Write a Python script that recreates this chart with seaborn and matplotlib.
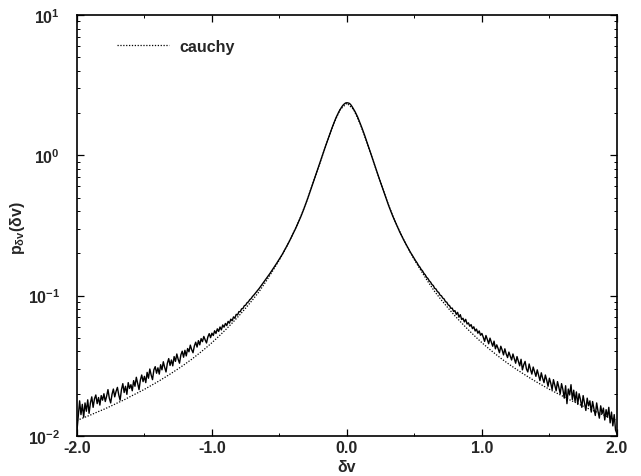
import numpy as np
import pandas as pd
import matplotlib
matplotlib.use("Agg")
import matplotlib.pyplot as plt
import seaborn as sns
from matplotlib.ticker import LogLocator, MultipleLocator, NullFormatter

# ---- data ----
# measured PDF, x from -2.00 to 2.00 step 0.01
measured_left = [
    0.0108, 0.0138, 0.0178, 0.0142, 0.0168, 0.0136, 0.0172, 0.0150, 0.0181, 0.0145,
    0.0172, 0.0190, 0.0160, 0.0184, 0.0196, 0.0170, 0.0188, 0.0166, 0.0194, 0.0180,
    0.0200, 0.0176, 0.0192, 0.0214, 0.0186, 0.0172, 0.0198, 0.0216, 0.0190, 0.0208,
    0.0222, 0.0196, 0.0180, 0.0214, 0.0236, 0.0204, 0.0226, 0.0198, 0.0240, 0.0218,
    0.0232, 0.0210, 0.0248, 0.0226, 0.0262, 0.0236, 0.0214, 0.0250, 0.0272, 0.0244,
    0.0266, 0.0240, 0.0284, 0.0258, 0.0300, 0.0272, 0.0252, 0.0296, 0.0312, 0.0280,
    0.0306, 0.0276, 0.0322, 0.0296, 0.0338, 0.0308, 0.0286, 0.0330, 0.0356, 0.0318,
    0.0348, 0.0316, 0.0368, 0.0340, 0.0384, 0.0352, 0.0330, 0.0378, 0.0402, 0.0364,
    0.0408, 0.0372, 0.0420, 0.0398, 0.0444, 0.0412, 0.0392, 0.0438, 0.0466, 0.0430,
    0.0478, 0.0446, 0.0494, 0.0470, 0.0512, 0.0484, 0.0460, 0.0508, 0.0536, 0.0502,
    0.0540,
    0.0520, 0.0562, 0.0538, 0.0580, 0.0556, 0.0598, 0.0570, 0.0618, 0.0596, 0.0634,
    0.0612, 0.0656, 0.0636, 0.0680, 0.0662, 0.0706, 0.0690, 0.0736, 0.0728, 0.0770,
    0.0768, 0.0806, 0.0810, 0.0848, 0.0855, 0.0890, 0.0902, 0.0936, 0.0952, 0.0985,
    0.1008, 0.1036, 0.1065, 0.1095, 0.1125, 0.1160, 0.1195, 0.1232, 0.1270, 0.1310,
    0.1352, 0.1395, 0.1440, 0.1488, 0.1538, 0.1590, 0.1645, 0.1702, 0.1762, 0.1825,
]
measured_center = [
    0.189, 0.196, 0.204, 0.212, 0.221, 0.230, 0.240, 0.251, 0.262, 0.275,
    0.287, 0.301, 0.317, 0.333, 0.350, 0.368, 0.389, 0.412, 0.437, 0.464,
    0.494, 0.526, 0.561, 0.599, 0.639, 0.682, 0.728, 0.776, 0.828, 0.882,
    0.945, 1.010, 1.080, 1.150, 1.225, 1.305, 1.390, 1.480, 1.570, 1.665,
    1.760, 1.860, 1.950, 2.040, 2.120, 2.200, 2.270, 2.320, 2.360,
    2.370,
    2.360, 2.340, 2.285, 2.210, 2.130, 2.050, 1.960, 1.870, 1.770, 1.670,
    1.580, 1.490, 1.400, 1.310, 1.230, 1.150, 1.080, 1.010, 0.945, 0.882,
    0.826, 0.774, 0.725, 0.680, 0.638, 0.598, 0.560, 0.525, 0.493, 0.463,
    0.436, 0.411, 0.389, 0.368, 0.350, 0.333, 0.316, 0.300, 0.286, 0.274,
    0.262, 0.250, 0.240, 0.230, 0.221, 0.213, 0.204, 0.197, 0.190,
]
measured_right = [
    0.1830,
    0.1765, 0.1712, 0.1642, 0.1600, 0.1538, 0.1502, 0.1442, 0.1408, 0.1352, 0.1325,
    0.1275, 0.1248, 0.1200, 0.1180, 0.1128, 0.1115, 0.1068, 0.1055, 0.1008, 0.0998,
    0.0960, 0.0948, 0.0905, 0.0898, 0.0858, 0.0850, 0.0812, 0.0815, 0.0772, 0.0782,
    0.0735, 0.0760, 0.0702, 0.0732, 0.0676, 0.0690, 0.0650, 0.0678, 0.0628, 0.0640,
    0.0605, 0.0622, 0.0582, 0.0600, 0.0560, 0.0578, 0.0540, 0.0560, 0.0522, 0.0538,
    0.0506, 0.0472, 0.0520, 0.0488, 0.0454, 0.0498, 0.0466, 0.0436, 0.0474, 0.0418,
    0.0446, 0.0420, 0.0392, 0.0436, 0.0410, 0.0378, 0.0418, 0.0384, 0.0362, 0.0396,
    0.0372, 0.0348, 0.0384, 0.0356, 0.0330, 0.0368, 0.0342, 0.0316, 0.0352, 0.0296,
    0.0322, 0.0340, 0.0300, 0.0286, 0.0326, 0.0298, 0.0276, 0.0310, 0.0288, 0.0266,
    0.0296, 0.0270, 0.0248, 0.0282, 0.0258, 0.0240, 0.0272, 0.0250, 0.0226, 0.0258,
    0.0238, 0.0214, 0.0252, 0.0230, 0.0210, 0.0244, 0.0222, 0.0200, 0.0236, 0.0214,
    0.0186, 0.0228, 0.0170, 0.0216, 0.0196, 0.0232, 0.0182, 0.0212, 0.0176, 0.0206,
    0.0168, 0.0200, 0.0182, 0.0160, 0.0194, 0.0172, 0.0152, 0.0186, 0.0164, 0.0178,
    0.0148, 0.0176, 0.0156, 0.0140, 0.0172, 0.0150, 0.0134, 0.0164, 0.0144, 0.0158,
    0.0130, 0.0154, 0.0136, 0.0160, 0.0124, 0.0148, 0.0118, 0.0142, 0.0110, 0.0104,
]
measured_p = measured_left + measured_center + measured_right
measured_x = np.round(np.linspace(-2.0, 2.0, len(measured_p)), 3)

# cauchy fit curve, x from -2.00 to 2.00 step 0.05 (values for x >= 0, mirrored)
cauchy_half = [
    2.3500, 2.1200, 1.6600, 1.2200, 0.8800, 0.6400, 0.4650, 0.3500, 0.2750, 0.2200,
    0.1800, 0.1500, 0.1260, 0.1070, 0.0930, 0.0815, 0.0718, 0.0638, 0.0570, 0.0512,
    0.0462, 0.0420, 0.0384, 0.0352, 0.0325, 0.0301, 0.0280, 0.0261, 0.0244, 0.0229,
    0.0215, 0.0203, 0.0192, 0.0181, 0.0172, 0.0163, 0.0155, 0.0148, 0.0141, 0.0135,
    0.0129,
]
cauchy_p = cauchy_half[::-1] + cauchy_half[1:]
cauchy_x = np.round(np.linspace(-2.0, 2.0, len(cauchy_p)), 3)

x_ticks = [-2.0, -1.0, 0.0, 1.0, 2.0]
x_tick_labels = ["-2.0", "-1.0", "0.0", "1.0", "2.0"]

# ---- plotting ----
sns.set_style("ticks")
plt.rcParams['font.family'] = ['Liberation Sans', 'DejaVu Sans']
plt.rcParams['axes.linewidth'] = 1.2

fig = plt.figure(figsize=(6.41, 4.77), dpi=100)
ax = fig.add_axes([0.120, 0.0839, 0.8424, 0.8826])

df_m = pd.DataFrame({"dv": measured_x, "p": measured_p})
df_c = pd.DataFrame({"dv": cauchy_x, "p": cauchy_p})

sns.lineplot(data=df_m, x="dv", y="p", ax=ax, color="black", linewidth=1.0,
             estimator=None, sort=False, legend=False)
sns.lineplot(data=df_c, x="dv", y="p", ax=ax, color="black", linewidth=0.9,
             linestyle=(0, (1, 1.3)), estimator=None, sort=False, label="cauchy")

ax.set_yscale("log")
ax.set_xlim(-2.0, 2.0)
ax.set_ylim(1e-2, 1e1)

ax.set_xticks(x_ticks)
ax.set_xticklabels(x_tick_labels)
ax.xaxis.set_minor_locator(MultipleLocator(0.5))
ax.yaxis.set_major_locator(LogLocator(base=10, numticks=10))
ax.yaxis.set_minor_locator(LogLocator(base=10, subs=np.arange(2, 10), numticks=20))
ax.yaxis.set_minor_formatter(NullFormatter())

ax.tick_params(which="both", direction="in", top=True, right=True, color="black")
ax.tick_params(which="major", length=5, width=0.9, labelsize=11.5, pad=3)
ax.tick_params(which="minor", length=2.5, width=0.7)
ax.tick_params(axis="y", which="major", pad=12)
for lab in ax.get_xticklabels() + ax.get_yticklabels():
    lab.set_fontweight("bold")

ax.set_xlabel("δv", fontsize=11.5, fontweight="bold")
ax.set_ylabel(r"p$_{\mathdefault{δv}}$(δv)", fontsize=11.5, fontweight="bold")
ax.xaxis.set_label_coords(0.5, -0.054)
ax.yaxis.set_label_coords(-0.093, 0.496)

for s in ax.spines.values():
    s.set_color("black")

leg = ax.legend(loc="center left", bbox_to_anchor=(0.075, 0.926), frameon=False,
                fontsize=11.5, handlelength=3.2, handletextpad=0.7, borderpad=0,
                borderaxespad=0)
for t in leg.get_texts():
    t.set_fontweight("bold")

fig.savefig("out.png", dpi=100, facecolor="white")
